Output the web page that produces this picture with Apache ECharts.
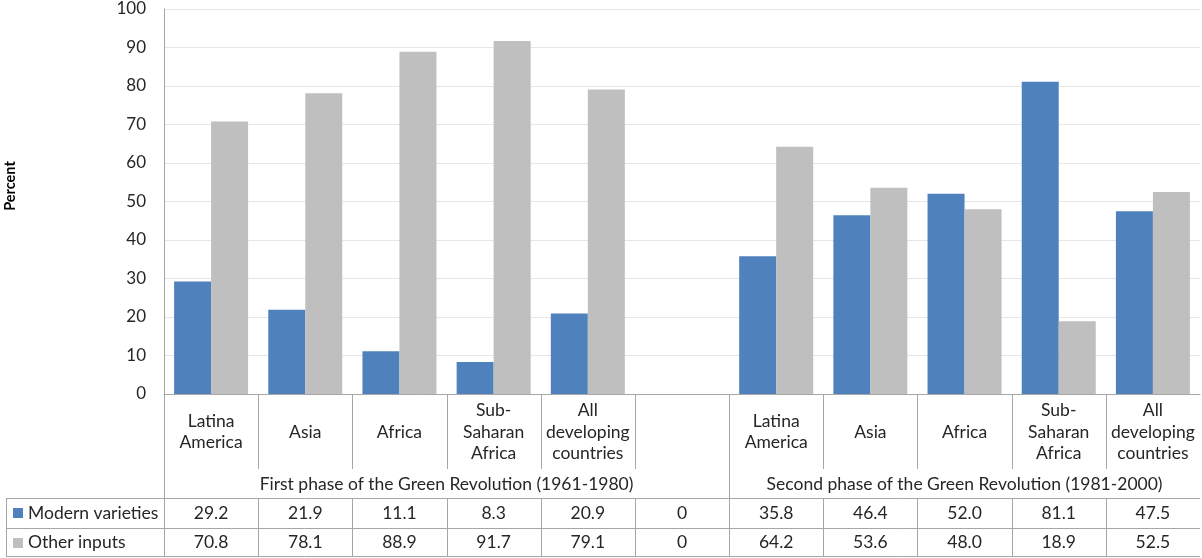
<!DOCTYPE html>
<html>
<head>
<meta charset="utf-8">
<script src="https://cdn.jsdelivr.net/npm/echarts@6/dist/echarts.min.js"></script>
<style>
html,body{margin:0;padding:0;background:#fff;}
#chart{width:1202px;height:558px;}
</style>
</head>
<body>
<div id="chart"></div>
<script>
const categories = ['Latina\nAmerica', 'Asia', 'Africa', 'Sub-\nSaharan\nAfrica', 'All\ndeveloping\ncountries', '',
                    'Latina\nAmerica', 'Asia', 'Africa', 'Sub-\nSaharan\nAfrica', 'All\ndeveloping\ncountries'];
const modernVarieties = [29.2, 21.9, 11.1, 8.3, 20.9, 0, 35.8, 46.4, 52.0, 81.1, 47.5];
const otherInputs = [70.8, 78.1, 88.9, 91.7, 79.1, 0, 64.2, 53.6, 48.0, 18.9, 52.5];
const seriesNames = ['Modern varieties', 'Other inputs'];
const groupLabels = ['First phase of the Green Revolution (1961-1980)', 'Second phase of the Green Revolution (1981-2000)'];
const groupStart = [0, 6];
const groupEnd = [5, 10];
const yAxisName = 'Percent';

const FONT = 'Lato, "Liberation Sans", sans-serif';
const BLUE = '#4F81BD';
const GRAY = '#BFBFBF';
const LINE = '#A6A6A6';
const TXT = '#262626';
const FS = 17.5;

const chart = echarts.init(document.getElementById('chart'), null, {renderer: 'canvas'});
chart.setOption({
  animation: false,
  backgroundColor: '#fff',
  grid: {left: 164, right: 2, top: 9, bottom: 164, containLabel: false, outerBoundsMode: 'none'},
  xAxis: {
    type: 'category',
    data: categories,
    axisLine: {show: true, lineStyle: {color: LINE, width: 1}},
    axisTick: {show: false},
    axisLabel: {
      interval: 0, margin: 38, verticalAlign: 'middle', lineHeight: 21.5,
      fontFamily: FONT, fontSize: FS, color: TXT, align: 'center'
    },
    splitLine: {show: false}
  },
  yAxis: {
    type: 'value', min: 0, max: 100, interval: 10,
    axisLine: {show: true, lineStyle: {color: LINE, width: 1}},
    axisTick: {show: false},
    axisLabel: {margin: 18, fontFamily: FONT, fontSize: 17, color: TXT},
    splitLine: {show: true, lineStyle: {color: '#E6E6E6', width: 1}}
  },
  series: [
    {name: seriesNames[0], type: 'bar', data: modernVarieties, barWidth: 37, barGap: '0%',
     itemStyle: {color: BLUE}},
    {name: seriesNames[1], type: 'bar', data: otherInputs, barWidth: 37, barGap: '0%',
     itemStyle: {color: GRAY}}
  ]
});

// Data table under the axis
const px = i => chart.convertToPixel({xAxisIndex: 0}, i);
const py = v => chart.convertToPixel({yAxisIndex: 0}, v);
const band = px(1) - px(0);
const left = px(0) - band / 2;
const right = px(categories.length - 1) + band / 2;
const y0 = py(0);
const headerBottom = y0 + 75;
const rowTop = y0 + 104;
const rowMid = rowTop + 30;
const rowBottom = rowTop + 59;
const tableLeft = 6;
const els = [];
const r = v => Math.round(v) + 0.5;
function line(x1, y1, x2, y2) {
  els.push({type: 'line', silent: true, shape: {x1: x1, y1: y1, x2: x2, y2: y2},
            style: {stroke: LINE, lineWidth: 1}});
}
function text(t, x, y, align, size) {
  els.push({type: 'text', silent: true, style: {
    text: t, x: x, y: y, align: align, textAlign: align, verticalAlign: 'middle', textVerticalAlign: 'middle',
    fontFamily: FONT, fontSize: size || FS, fill: TXT}});
}
// axis name
els.push({type: 'text', silent: true, x: 10, y: 186, rotation: Math.PI / 2, style: {
  text: yAxisName, x: 0, y: 0, align: 'center', textAlign: 'center', verticalAlign: 'middle', textVerticalAlign: 'middle',
  fontFamily: FONT, fontSize: 14.5, fontWeight: 'bold', fill: '#000'}});
// left axis extension
line(r(left), y0, r(left), rowBottom);
// category dividers
for (let k = 1; k < categories.length; k++) {
  const x = r(left + k * band);
  if (groupStart.indexOf(k) >= 0) {
    line(x, y0, x, rowBottom);
  } else {
    line(x, y0, x, headerBottom);
    line(x, rowTop, x, rowBottom);
  }
}
// horizontal table lines
[rowTop, rowMid, rowBottom - 1].forEach(y => line(tableLeft, r(y), right, r(y)));
line(r(tableLeft), rowTop, r(tableLeft), rowBottom);
// group labels
for (let g = 0; g < groupLabels.length; g++) {
  const cx = (px(groupStart[g]) + px(groupEnd[g])) / 2;
  text(groupLabels[g], cx, (headerBottom + rowTop) / 2 + 1, 'center', FS);
}
// rows
const rows = [modernVarieties, otherInputs];
const colors = [BLUE, GRAY];
rows.forEach((vals, ri) => {
  const cy = ri === 0 ? (rowTop + rowMid) / 2 : (rowMid + rowBottom) / 2;
  els.push({type: 'rect', silent: true, shape: {x: 13, y: Math.round(cy) - 5, width: 10, height: 10},
            style: {fill: colors[ri]}});
  text(seriesNames[ri], 28, cy, 'left', FS);
  vals.forEach((v, i) => text(v === 0 ? '0' : v.toFixed(1), px(i), cy, 'center', FS));
});
chart.setOption({graphic: {elements: els}});
</script>
</body>
</html>
